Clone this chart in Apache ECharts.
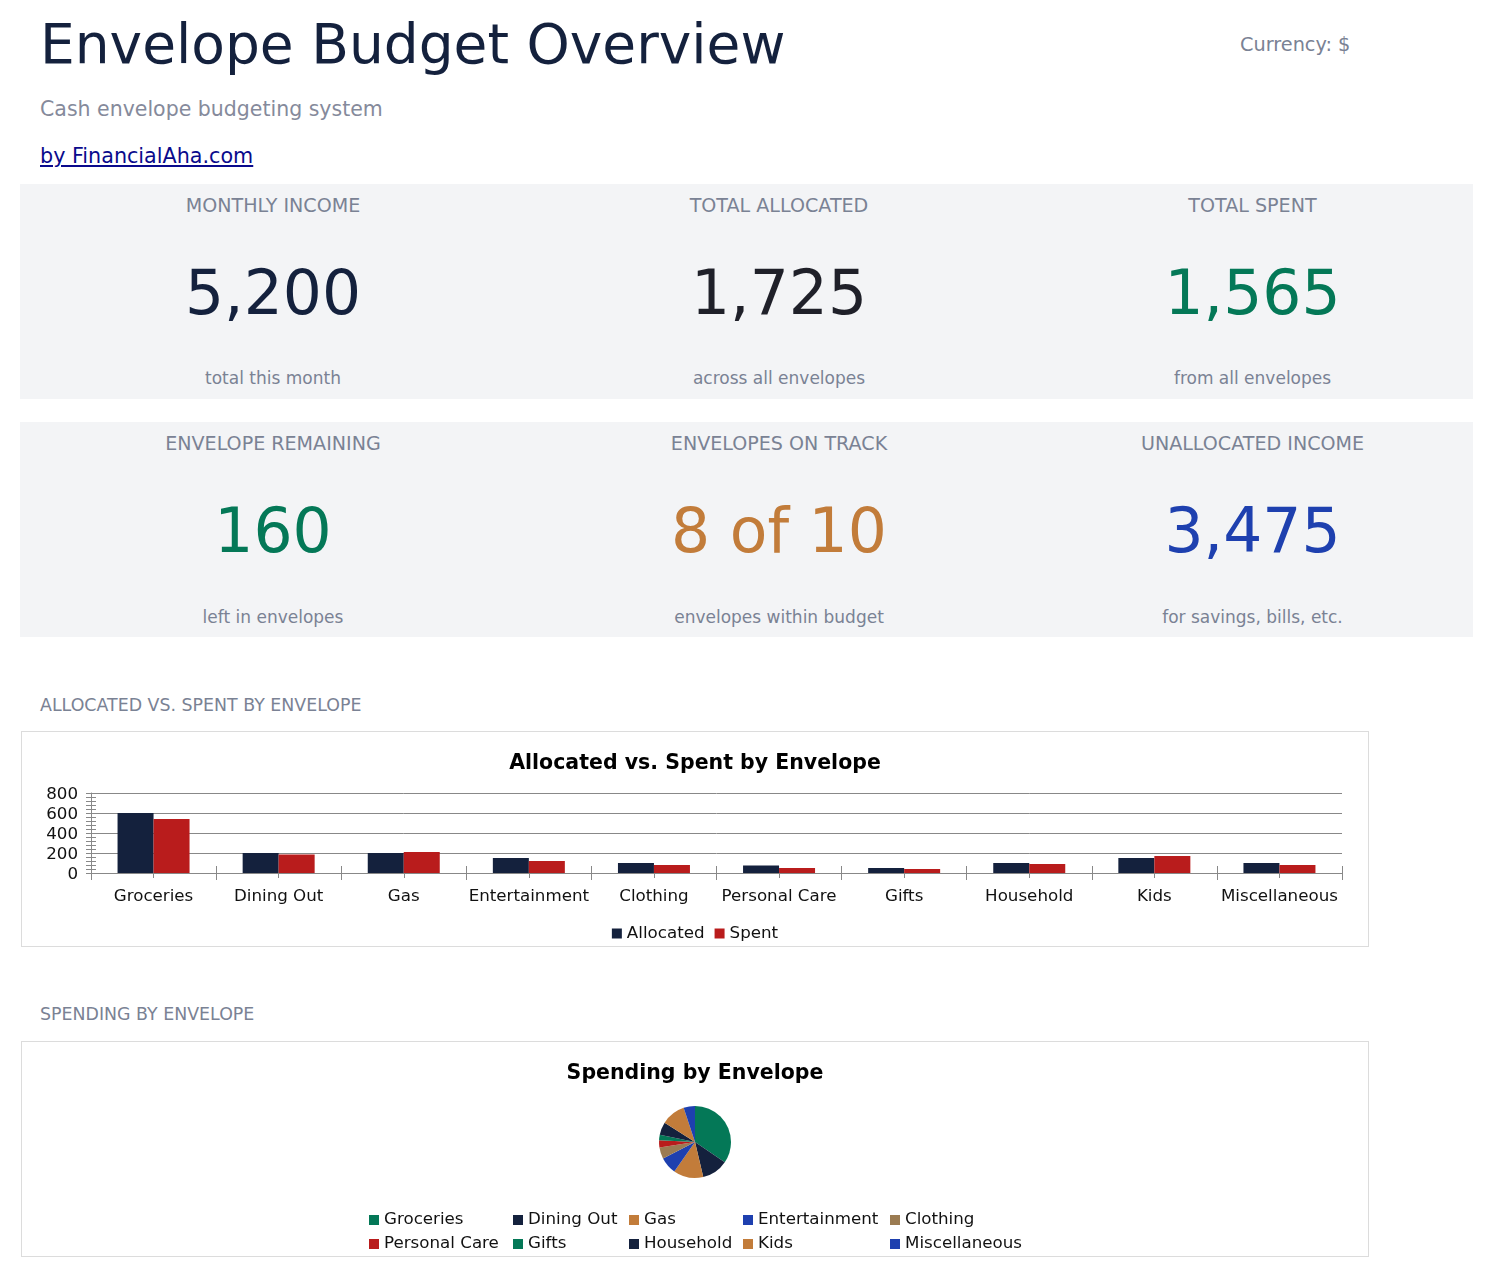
<!DOCTYPE html>
<html>
<head>
<meta charset="utf-8">
<script src="https://cdn.jsdelivr.net/npm/echarts@6/dist/echarts.min.js"></script>
<style>
  html, body { margin: 0; padding: 0; background: #ffffff; }
  body { width: 1493px; height: 1278px; position: relative; font-family: "DejaVu Sans", sans-serif; overflow: hidden; }
  .t { position: absolute; white-space: nowrap; line-height: normal; }
  .panel { position: absolute; left: 20px; width: 1453px; height: 215px; background: #f3f4f6; }
  .box { position: absolute; left: 21px; width: 1346px; height: 214px; border: 1px solid #dcdcdc; }
  .chart { width: 1346px; height: 214px; }
  .lbl { color: #7a8294; text-align: center; }
  .val { text-align: center; }
  .sub { color: #7a8294; text-align: center; }
  .sec { color: #7a8294; }
</style>
</head>
<body>
<div class="box" style="top:731px"><div id="bar" class="chart"></div></div>
<div class="box" style="top:1041px"><div id="pie" class="chart"></div></div>
<script>
// ---- data ----
const categories = ['Groceries', 'Dining Out', 'Gas', 'Entertainment', 'Clothing', 'Personal Care', 'Gifts', 'Household', 'Kids', 'Miscellaneous'];
const allocated = [600, 200, 200, 150, 100, 75, 50, 100, 150, 100];
const spent = [540, 185, 210, 120, 80, 50, 40, 90, 170, 80];
const seriesNames = ['Allocated', 'Spent'];
const kpiLabels = ['MONTHLY INCOME', 'TOTAL ALLOCATED', 'TOTAL SPENT', 'ENVELOPE REMAINING', 'ENVELOPES ON TRACK', 'UNALLOCATED INCOME'];
const kpiValues = ['5,200', '1,725', '1,565', '160', '8 of 10', '3,475'];
const kpiSubs = ['total this month', 'across all envelopes', 'from all envelopes', 'left in envelopes', 'envelopes within budget', 'for savings, bills, etc.'];
const pageTitle = 'Envelope Budget Overview';
const pageSubtitle = 'Cash envelope budgeting system';
const byline = 'by FinancialAha.com';
const currencyLabel = 'Currency: $';
const sectionLabels = ['ALLOCATED VS. SPENT BY ENVELOPE', 'SPENDING BY ENVELOPE'];
const chartTitles = ['Allocated vs. Spent by Envelope', 'Spending by Envelope'];

// ---- styles ----
const kpiColors = ['#14213d', '#1f2029', '#047857', '#047857', '#c27c3a', '#1e40af'];
const barColors = ['#14213d', '#b91c1c'];
const pieColors = ['#047857', '#14213d', '#c27c3a', '#1e40af', '#9b7b52', '#b91c1c'];

// ---- page text ----
const page = document.body;
function addText(txt, cls, left, width, baseline, fs, extra) {
  const d = document.createElement('div');
  d.className = 't ' + cls;
  d.textContent = txt;
  d.style.left = left + 'px';
  if (width) d.style.width = width + 'px';
  d.style.fontSize = fs + 'px';
  d.style.top = (baseline - 0.928 * fs) + 'px';
  if (extra) Object.assign(d.style, extra);
  page.appendChild(d);
  return d;
}
const p1 = document.createElement('div'); p1.className = 'panel'; p1.style.top = '184px'; page.appendChild(p1);
const p2 = document.createElement('div'); p2.className = 'panel'; p2.style.top = '422px'; page.appendChild(p2);

addText(pageTitle, '', 40, 0, 63, 55, { color: '#14213d' });
addText(currencyLabel, '', 1240, 0, 51, 19.3, { color: '#7a8294' });
addText(pageSubtitle, '', 40, 0, 116.5, 20.5, { color: '#858a9b' });
addText(byline, '', 40, 0, 163, 20.7, { color: '#0a0a8c', textDecoration: 'underline' });

const colLeft = [20, 526, 1032];
const colWidth = [506, 506, 441];
const rowBase = [[212, 314, 384], [450, 552, 623]];
for (let i = 0; i < 6; i++) {
  const r = Math.floor(i / 3), c = i % 3;
  addText(kpiLabels[i], 'lbl', colLeft[c], colWidth[c], rowBase[r][0], 19.1);
  addText(kpiValues[i], 'val', colLeft[c], colWidth[c], rowBase[r][1], 61.5, { color: kpiColors[i] });
  addText(kpiSubs[i], 'sub', colLeft[c], colWidth[c], rowBase[r][2], 17);
}
addText(sectionLabels[0], 'sec', 40, 0, 711, 17.4);
addText(sectionLabels[1], 'sec', 40, 0, 1020, 17.4);

// ---- bar chart ----
const FONT = 'DejaVu Sans';
const AX = '#888';
const bar = echarts.init(document.getElementById('bar'), null, { renderer: 'canvas' });
const xBase = { type: 'category', data: categories, position: 'bottom' };
const yBase = { type: 'value', min: 0, max: 800, interval: 200, position: 'left' };
bar.setOption({
  animation: false,
  textStyle: { fontFamily: FONT },
  title: {
    text: chartTitles[0], left: 'center', top: 16,
    textStyle: { fontFamily: FONT, fontSize: 20.5, fontWeight: 'bold', color: '#000' }
  },
  legend: {
    data: seriesNames, left: 'center', top: 188, icon: 'rect', itemWidth: 10, itemHeight: 10, itemGap: 10,
    textStyle: { fontFamily: FONT, fontSize: 16.7, color: '#111' }
  },
  grid: { left: 69, right: 26, top: 61, height: 80, containLabel: false },
  xAxis: [
    Object.assign({}, xBase, {
      axisLine: { lineStyle: { color: AX, width: 1 } },
      axisTick: { show: true, length: 7, lineStyle: { color: AX } },
      axisLabel: { fontFamily: FONT, fontSize: 16.7, color: '#111', margin: 15, interval: 0 }
    }),
    Object.assign({}, xBase, {
      axisLine: { show: false },
      axisTick: { show: true, inside: true, length: 7, lineStyle: { color: AX } },
      axisLabel: { show: false }, splitLine: { show: false }
    }),
    Object.assign({}, xBase, {
      axisLine: { show: false },
      axisTick: { show: true, alignWithLabel: true, length: 5, lineStyle: { color: AX } },
      axisLabel: { show: false }, splitLine: { show: false }
    })
  ],
  yAxis: [
    Object.assign({}, yBase, {
      axisLine: { show: true, lineStyle: { color: AX } },
      axisTick: { show: true, length: 5, lineStyle: { color: AX } },
      minorTick: { show: true, splitNumber: 5, length: 5, lineStyle: { color: AX } },
      splitLine: { show: true, lineStyle: { color: AX, width: 1 } },
      axisLabel: { fontFamily: FONT, fontSize: 16.7, color: '#111', margin: 13, verticalAlign: 'top', lineHeight: 4 }
    }),
    Object.assign({}, yBase, {
      axisLine: { show: false },
      axisTick: { show: true, inside: true, length: 5, lineStyle: { color: AX } },
      minorTick: { show: true, splitNumber: 5, length: 5, lineStyle: { color: AX } },
      splitLine: { show: false },
      axisLabel: { show: false }
    })
  ],
  series: [
    { name: seriesNames[0], type: 'bar', xAxisIndex: 0, yAxisIndex: 0, data: allocated, barWidth: 36, barGap: '0%', itemStyle: { color: barColors[0] } },
    { name: seriesNames[1], type: 'bar', xAxisIndex: 0, yAxisIndex: 0, data: spent, barWidth: 36, barGap: '0%', itemStyle: { color: barColors[1] } }
  ]
});

// ---- pie chart ----
const pie = echarts.init(document.getElementById('pie'), null, { renderer: 'canvas' });
const legendLefts = [347, 491, 607, 721, 868];
const legends = legendLefts.map((l, i) => ({
  data: [categories[i], categories[i + 5]],
  orient: 'vertical', left: l, top: 169, height: 44, padding: 0,
  icon: 'rect', itemWidth: 10, itemHeight: 10, itemGap: 6,
  textStyle: { fontFamily: FONT, fontSize: 16.7, color: '#111', lineHeight: 18 }
}));
pie.setOption({
  animation: false,
  color: pieColors,
  textStyle: { fontFamily: FONT },
  title: {
    text: chartTitles[1], left: 'center', top: 16,
    textStyle: { fontFamily: FONT, fontSize: 20.5, fontWeight: 'bold', color: '#000' }
  },
  legend: legends,
  series: [{
    type: 'pie', center: [673, 100], radius: 36, startAngle: 90, clockwise: true,
    label: { show: false }, labelLine: { show: false },
    data: categories.map((c, i) => ({ name: c, value: spent[i] }))
  }]
});
</script>
</body>
</html>
